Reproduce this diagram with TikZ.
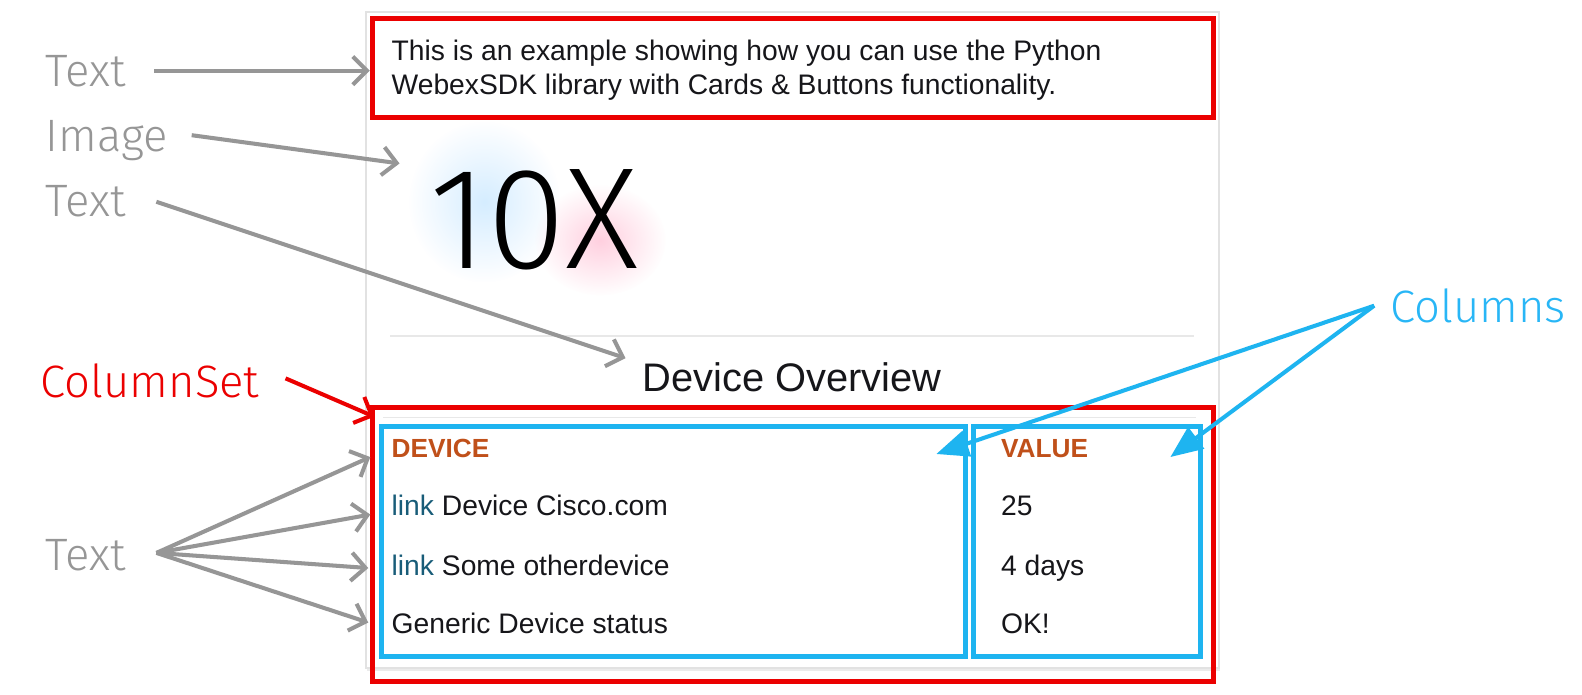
\documentclass[tikz,border=0pt]{standalone}
\usepackage{fontspec}
\setmainfont{Liberation Sans}
\IfFontExistsTF{Fira Sans Light}{\newfontfamily\lightfont{Fira Sans Light}}{\IfFontExistsTF{Lato Light}{\newfontfamily\lightfont{Lato Light}}{\newfontfamily\lightfont{Liberation Sans}}}
\usetikzlibrary{arrows.meta,fadings}
\tikzfading[name=glowfade, inner color=transparent!0, outer color=transparent!100]
\definecolor{annogray}{RGB}{150,150,150}
\definecolor{boxred}{RGB}{235,0,0}
\definecolor{colblue}{RGB}{30,180,240}
\definecolor{txtblue}{RGB}{40,182,246}
\definecolor{hdrorange}{RGB}{192,80,26}
\definecolor{linkteal}{RGB}{24,92,120}
\definecolor{cardline}{RGB}{226,226,226}
\definecolor{sepline}{RGB}{232,232,232}
\definecolor{inktext}{RGB}{22,22,26}
\definecolor{glowblue}{RGB}{150,210,255}
\definecolor{glowpink}{RGB}{255,150,185}
\tikzset{
  anno/.style={inner sep=0pt, anchor=base west, text=annogray, font=\lightfont\fontsize{45}{45}\selectfont},
  cardtext/.style={inner sep=0pt, anchor=base west, text=inktext, font=\fontsize{28}{28}\selectfont},
  hdrtext/.style={inner sep=0pt, anchor=base west, text=hdrorange, font=\bfseries\fontsize{26}{26}\selectfont},
  redbox/.style={draw=boxred, line width=5pt, inner sep=0pt},
  bluebox/.style={draw=colblue, line width=5pt, inner sep=0pt},
  grayarrow/.style={draw=annogray, line width=4pt, -{Straight Barb[length=14pt,width=28pt,line width=4pt]}},
  redarrow/.style={draw=boxred, line width=4pt, -{Straight Barb[length=14pt,width=28pt,line width=4pt]}},
  bluearrow/.style={draw=colblue, line width=4pt, -{Triangle[length=32pt,width=26pt]}}
}
\begin{document}
\begin{tikzpicture}[x=1pt,y=-1pt]
\useasboundingbox[fill=white] (0,0) rectangle (1568,688);
% card
\fill[black!8] (364,18) rectangle (1209,665);
\node[draw=cardline, line width=1.5pt, fill=white, minimum width=845pt, minimum height=650pt, inner sep=0pt] (card) at (785.5,337) {};
\draw[sepline, line width=1.5pt] (387,333) -- (1183,333);
% top text block
\node[redbox, minimum width=834pt, minimum height=98pt] (topbox) at (786,67) {};
\node[cardtext] (l1) at (388,60) {This is an example showing how you can use the Python};
\node[cardtext] (l2) at (388,94) {WebexSDK library with Cards \& Buttons functionality.};
% image
\fill[glowblue, opacity=0.4, path fading=glowfade] (480,200) ellipse (75pt and 80pt);
\fill[glowpink, opacity=0.45, path fading=glowfade] (595,238) ellipse (65pt and 55pt);
\node[inner sep=0pt, anchor=south west] (img) at (425,268) {\resizebox{208pt}{98pt}{\lightfont 10X}};
% title
\node[inner sep=0pt, anchor=base, text=inktext, font=\fontsize{39.5}{40}\selectfont] (title) at (785,388) {Device Overview};
% column set
\node[redbox, minimum width=834pt, minimum height=271pt] (colset) at (786,539.5) {};
\draw[sepline, line width=1.5pt] (380,414) -- (1185,414);
\node[bluebox, minimum width=579pt, minimum height=228pt] (col1) at (667.5,537) {};
\node[bluebox, minimum width=225pt, minimum height=228pt] (col2) at (1077.5,537) {};
\node[hdrtext] (h1) at (388,453) {DEVICE};
\node[cardtext] (r1) at (388,511) {\textcolor{linkteal}{link} Device Cisco.com};
\node[cardtext] (r2) at (388,570) {\textcolor{linkteal}{link} Some otherdevice};
\node[cardtext] (r3) at (388,628) {Generic Device status};
\node[hdrtext] (h2) at (992,453) {VALUE};
\node[cardtext] (v1) at (992,511) {25};
\node[cardtext] (v2) at (992,570) {4 days};
\node[cardtext] (v3) at (992,628) {OK!};
% annotations
\node[anno] (aText1) at (45,86) {Text};
\node[anno] (aImage) at (45,150) {Image};
\node[anno] (aText2) at (45,215) {Text};
\node[anno, text=boxred] (aColSet) at (40,394) {ColumnSet};
\node[anno] (aText3) at (45,565) {Text};
\node[anno, text=txtblue] (aCols) at (1378,320) {Columns};
% connector end points
\coordinate (s1) at (153,70);
\coordinate (s2) at (190,134);
\coordinate (e2) at (396,162);
\coordinate (s3) at (155,200);
\coordinate (e3) at (620,355);
\coordinate (s4) at (283,375);
\coordinate (e4) at (371,413);
\coordinate (s5) at (155,548);
\coordinate (e5a) at (367,453);
\coordinate (e5b) at (367,510);
\coordinate (e5c) at (365,563);
\coordinate (e5d) at (365,617);
\coordinate (s6) at (1362,303);
\coordinate (e6a) at (928,450);
\coordinate (e6b) at (1160,453);
% arrows
\draw[grayarrow] (s1) -- (topbox.west |- s1);
\draw[grayarrow] (s2) -- (e2);
\draw[grayarrow] (s3) -- (e3);
\draw[redarrow] (s4) -- (e4);
\draw[grayarrow] (s5) -- (e5a);
\draw[grayarrow] (s5) -- (e5b);
\draw[grayarrow] (s5) -- (e5c);
\draw[grayarrow] (s5) -- (e5d);
\draw[bluearrow] (s6) -- (e6a);
\draw[bluearrow] (s6) -- (e6b);
\end{tikzpicture}
\end{document}
